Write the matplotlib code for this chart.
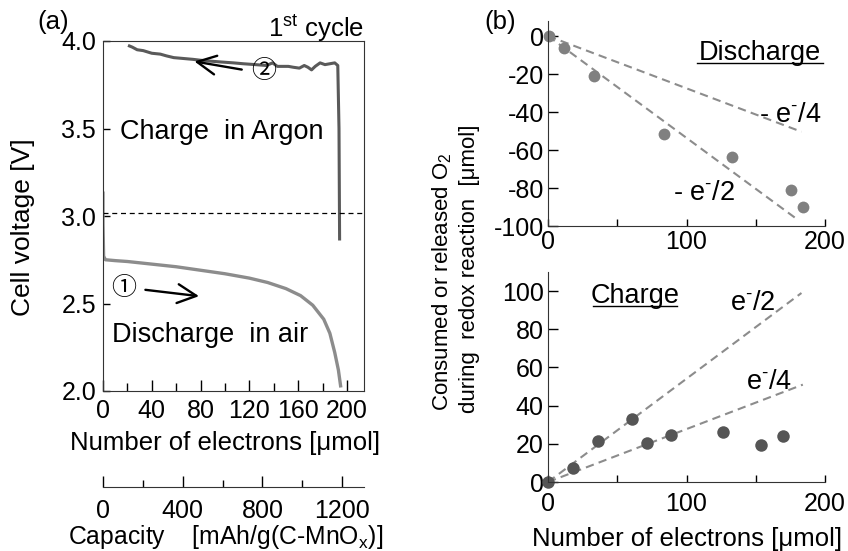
import matplotlib
matplotlib.use("Agg")
import matplotlib.pyplot as plt
from matplotlib.ticker import MultipleLocator, FormatStrFormatter

plt.rcParams['font.family'] = ['Liberation Sans', 'DejaVu Sans']
plt.rcParams['mathtext.fontset'] = 'custom'
plt.rcParams['mathtext.rm'] = 'Liberation Sans'
plt.rcParams['mathtext.it'] = 'Liberation Sans'
plt.rcParams['axes.unicode_minus'] = False

# panel (a): voltage profile, number of electrons [umol] vs cell voltage [V]
discharge_x = [0, 0, 0.5, 2, 10, 20, 40, 60, 80, 100, 120, 135, 150, 162, 172, 181, 186, 190, 193, 195]
discharge_v = [3.14, 2.95, 2.77, 2.75, 2.745, 2.74, 2.725, 2.71, 2.69, 2.67, 2.645, 2.62, 2.585, 2.545, 2.49, 2.41, 2.33, 2.22, 2.12, 2.02]

charge_x = [194, 193.5, 192.5, 190, 186, 182, 178, 174, 171, 168, 165, 161, 156, 152, 148, 143, 139, 134, 125,
            115, 107, 97, 88, 80, 74, 66, 58, 52, 47, 40, 33, 28, 24, 20.5]
charge_v = [2.86, 3.5, 3.86, 3.875, 3.87, 3.865, 3.875, 3.855, 3.835, 3.85, 3.86, 3.845, 3.85, 3.855, 3.855, 3.855, 3.875,
            3.86, 3.865, 3.87, 3.875, 3.88, 3.885, 3.89, 3.895, 3.9, 3.905, 3.915, 3.925, 3.93, 3.945, 3.95, 3.965, 3.975]
ref_voltage = 3.02

cap_ticks = [0, 400, 800, 1200]
cap_per_umol = 6.12

# panel (b): O2 consumed (discharge) / released (charge) vs number of electrons
dis_e = [1, 11.6, 33.4, 84, 132.6, 175.5, 184.4]
dis_o2 = [0, -6.5, -21, -51.6, -63.8, -81, -89.8]
dis_line_e4 = [0, 183]
dis_line_q4 = [0, -50.4]
dis_line_e2 = [0, 180.5]
dis_line_q2 = [0, -96.8]

chg_e = [0, 18.3, 36.3, 60.4, 71.7, 88.6, 126.6, 153.6, 170]
chg_o2 = [0, 7.5, 21.7, 33, 20.3, 24.8, 26, 19.5, 24]
chg_line_e2 = [0, 183]
chg_line_q2 = [0, 99]
chg_line_e4 = [0, 184]
chg_line_q4 = [0, 51]

W, H = 848, 551
fig = plt.figure(figsize=(W / 100, H / 100), dpi=100)


def frac(x0, y0, x1, y1):
    # pixel box (top-left origin) -> figure fraction rect
    return [x0 / W, 1 - y1 / H, (x1 - x0) / W, (y1 - y0) / H]


tick_fs = 18
lab_fs = 18.5
ann_fs = 19.5
circ_font = ['Noto Sans CJK JP', 'DejaVu Sans']
sup_minus = r'e$^{\text{-}}$'

# ---------------- panel (a) ----------------
ax = fig.add_axes(frac(103, 41, 364, 391))
ax.plot(discharge_x, discharge_v, color='#8c8c8c', lw=2.4, solid_capstyle='butt')
ax.plot(charge_x, charge_v, color='#5a5a5a', lw=2.2, solid_capstyle='butt')
ax.axhline(ref_voltage, color='black', lw=0.9, dashes=(4, 3))
ax.set_xlim(0, 214)
ax.set_ylim(2.0, 4.0)
ax.xaxis.set_major_locator(MultipleLocator(40))
ax.xaxis.set_minor_locator(MultipleLocator(20))
ax.yaxis.set_major_locator(MultipleLocator(0.5))
ax.yaxis.set_major_formatter(FormatStrFormatter('%.1f'))
ax.tick_params(axis='x', which='major', direction='in', length=8, width=1, labelsize=tick_fs, pad=6)
ax.tick_params(axis='x', which='minor', direction='in', length=5.5, width=1)
ax.tick_params(axis='y', direction='in', length=5, width=1, labelsize=tick_fs, pad=5)
for s in ax.spines.values():
    s.set_color('#333333')
fig.text(225 / W, 1 - 443 / H, 'Number of electrons [μmol]', fontsize=lab_fs, ha='center', va='center')

ax.text(97.5, 3.48, 'Charge  in Argon', fontsize=ann_fs, ha='center', va='center')
ax.text(87.7, 2.32, 'Discharge  in air', fontsize=ann_fs, ha='center', va='center')
ax.text(131.5, 3.83, '②', fontsize=18, ha='center', va='center', family=circ_font)
ax.text(16.7, 2.59, '①', fontsize=18, ha='center', va='center', family=circ_font)
ax.annotate('', xy=(72.7, 3.886), xytext=(116, 3.834),
            arrowprops=dict(arrowstyle='->', lw=1.7, color='black', mutation_scale=34))
ax.annotate('', xy=(81, 2.54), xytext=(32.5, 2.58),
            arrowprops=dict(arrowstyle='->', lw=1.7, color='black', mutation_scale=34))

fig.text(23 / W, 1 - 227 / H, 'Cell voltage [V]', fontsize=19, rotation=90, ha='center', va='center')
fig.text(53 / W, 1 - 22 / H, '(a)', fontsize=lab_fs, ha='center', va='center')
fig.text(364 / W, 1 - 29 / H, r'1$^{\mathrm{st}}$ cycle', fontsize=lab_fs, ha='right', va='center')

# capacity axis
axc = fig.add_axes(frac(103, 477, 364, 487))
axc.set_xlim(0, 214 * cap_per_umol)
axc.set_xticks(cap_ticks)
axc.xaxis.set_minor_locator(MultipleLocator(200))
axc.set_yticks([])
for k in ['left', 'right', 'top']:
    axc.spines[k].set_visible(False)
axc.spines['bottom'].set_color('#333333')
axc.patch.set_alpha(0)
axc.tick_params(axis='x', which='major', direction='in', length=8, width=1, labelsize=tick_fs, pad=9)
axc.tick_params(axis='x', which='minor', direction='in', length=5, width=1)
fig.text(68 / W, 1 - 537 / H, r'Capacity    [mAh/g(C-MnO$_{\mathrm{x}}$)]', fontsize=17.8, ha='left', va='center')

# ---------------- panel (b) top: discharge ----------------
axt = fig.add_axes(frac(548, 20.8, 825, 226))
axt.plot(dis_line_e4, dis_line_q4, color='#8c8c8c', lw=1.5, dashes=(4, 2.5))
axt.plot(dis_line_e2, dis_line_q2, color='#8c8c8c', lw=1.5, dashes=(4, 2.5))
axt.plot(dis_e, dis_o2, 'o', color='#808080', ms=8.5, mec='none', clip_on=False)
axt.set_xlim(0, 200)
axt.set_ylim(-100, 8)

# ---------------- panel (b) bottom: charge ----------------
axb = fig.add_axes(frac(548, 272, 825, 482))
axb.plot(chg_line_e2, chg_line_q2, color='#8c8c8c', lw=1.5, dashes=(4, 2.5))
axb.plot(chg_line_e4, chg_line_q4, color='#8c8c8c', lw=1.5, dashes=(4, 2.5))
axb.plot(chg_e, chg_o2, 'o', color='#555555', ms=9, mec='none', clip_on=False)
axb.set_xlim(0, 200)
axb.set_ylim(0, 110)

for a, yt, xpad in [(axt, range(-100, 1, 20), 3), (axb, range(0, 101, 20), 7)]:
    a.set_yticks(list(yt))
    a.set_xticks([0, 100, 200])
    a.xaxis.set_minor_locator(MultipleLocator(50))
    a.spines['top'].set_visible(False)
    a.spines['right'].set_visible(False)
    a.spines['left'].set_color('#333333')
    a.spines['bottom'].set_color('#333333')
    a.tick_params(axis='x', which='major', direction='in', length=5, width=1, labelsize=tick_fs, pad=xpad)
    a.tick_params(axis='x', which='minor', direction='in', length=5, width=1)
    a.tick_params(axis='y', direction='in', length=7, width=1, labelsize=tick_fs, pad=3)
    a.patch.set_alpha(0)

axt.text(153, -9, 'Discharge', fontsize=ann_fs, ha='center', va='center')
axt.plot([107.6, 198.6], [-14.2, -14.2], color='black', lw=1.0, clip_on=False)
axt.text(175, -41.6, '- ' + sup_minus + '/4', fontsize=ann_fs, ha='center', va='center')
axt.text(113, -82.6, '- ' + sup_minus + '/2', fontsize=ann_fs, ha='center', va='center')

axb.text(62.8, 97.4, 'Charge', fontsize=ann_fs, ha='center', va='center')
axb.plot([32.5, 93], [92.0, 92.0], color='black', lw=1.0, clip_on=False)
axb.text(148, 94, sup_minus + '/2', fontsize=ann_fs, ha='center', va='center')
axb.text(160, 52.6, sup_minus + '/4', fontsize=ann_fs, ha='center', va='center')
fig.text(687 / W, 1 - 539 / H, 'Number of electrons [μmol]', fontsize=lab_fs, ha='center', va='center')

fig.text(500 / W, 1 - 22 / H, '(b)', fontsize=lab_fs, ha='center', va='center')
fig.text(442 / W, 1 - 411 / H, r'Consumed or released O$_2$', fontsize=16, rotation=90,
         rotation_mode='anchor', ha='left', va='center')
fig.text(470 / W, 1 - 413 / H, r'during  redox reaction  [μmol]', fontsize=16, rotation=90,
         rotation_mode='anchor', ha='left', va='center')

fig.savefig('out.png', dpi=100)
